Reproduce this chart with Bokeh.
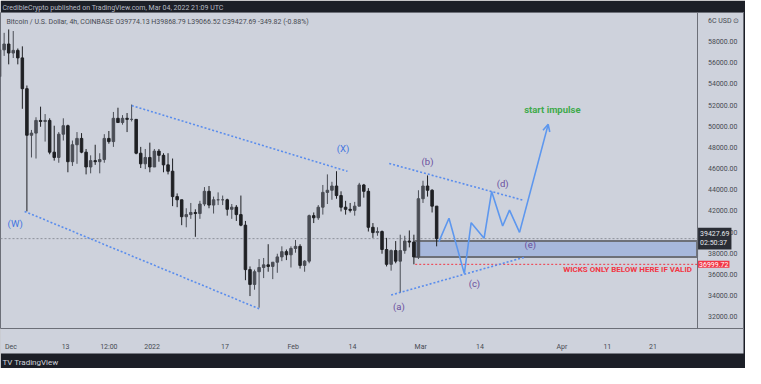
import pandas as pd
from bokeh.plotting import figure
from bokeh.models import Range1d, FixedTicker, Label, Title, Arrow, OpenHead, ColumnDataSource
from bokeh.embed import file_html
from bokeh.resources import INLINE
from bokeh.core.properties import value

# ---------------- data ----------------
first_day = "2021-11-28"
opens = [54740, 57270, 57820,
         56970, 57220, 56510, 53600, 49200, 49400, 50600, 50500, 50600, 47600, 47100, 49300, 50100, 46700, 48300, 48900,
         47600, 46200, 46800, 46700, 46900, 48900, 48600, 50800, 50400, 50800, 50700, 50700, 47500, 46500, 47100,
         46200, 47700, 47300, 46400, 45800, 43400, 43100, 41500, 41700, 41900, 41800, 42700, 43900, 42600, 43100,
         43100, 43100, 42200, 42400, 41700, 40700, 36500, 35100, 36300, 36700, 36950, 36800, 37200, 37700, 38200, 37900,
         38500, 38700, 36900, 37300, 41600, 41400, 42400, 43800, 44000, 44400, 43500, 42400, 42200, 42100, 42500,
         44500, 43900, 40500, 40000, 40100, 38400, 37000, 38300, 37300, 38300, 39200, 39100, 37700,
         43200, 44400, 44000, 42500]
highs = [57450, 58880, 59200,
         59050, 57400, 57600, 53900, 49700, 50900, 51900, 51200, 50800, 50100, 49500, 50800, 50200, 48700, 49500, 49400,
         47900, 47300, 48300, 47500, 49300, 49600, 51400, 51800, 51100, 51300, 52100, 50700, 48100, 47900, 48500,
         47900, 47900, 47500, 47500, 47000, 43700, 43100, 42300, 42800, 42200, 43000, 44300, 44400, 43400, 43800,
         43500, 43200, 42700, 42600, 43500, 41100, 36800, 36500, 37500, 37600, 38900, 37200, 38000, 38700, 38400, 38700,
         39300, 38900, 37400, 41700, 41900, 42600, 44500, 45500, 44800, 45800, 43900, 43000, 42800, 42900, 44700,
         44600, 44200, 40900, 40500, 40200, 39500, 38400, 39200, 39800, 39700, 40200, 39800, 44000,
         44900, 45400, 44100, 42500]
lows = [53330, 56700, 55900,
        56500, 55900, 51700, 42000, 47100, 47000, 50000, 48600, 47400, 46800, 46600, 48700, 45700, 46300, 46500, 47500,
        45500, 45600, 46400, 45600, 46600, 48400, 48100, 50400, 50200, 49500, 50500, 47400, 46100, 46000, 45700,
        46200, 46700, 45700, 45500, 42500, 42400, 40700, 40500, 41300, 39600, 41300, 42500, 42300, 41800, 42600,
        42600, 41600, 41300, 41100, 40600, 35500, 34000, 34600, 32900, 35700, 36300, 35600, 36200, 37300, 37400, 36700,
        38100, 36600, 36300, 37100, 40900, 41200, 41700, 42700, 43100, 43200, 42000, 41700, 41900, 41600, 42500,
        43300, 40100, 39500, 39700, 38000, 36800, 36400, 37100, 34300, 38000, 38600, 37000, 37500,
        42800, 43400, 41900, 38700]
closes = [57270, 57820, 56970,
          57220, 56510, 53600, 49200, 49400, 50600, 50500, 50600, 47600, 47100, 49300, 50100, 46700, 48300, 48900,
          47600, 46200, 46800, 46700, 46900, 48900, 48600, 50800, 50400, 50800, 50700, 50700, 47500, 46500, 47100,
          46200, 47700, 47300, 46400, 45800, 43400, 43100, 41500, 41700, 41900, 41800, 42700, 43900, 42600, 43100,
          43100, 43100, 42200, 42400, 41700, 40700, 36500, 35100, 36300, 36700, 36950, 36800, 37200, 37700, 38200,
          37900, 38500, 38700, 36900, 37300, 41600, 41400, 42400, 43800, 44000, 44400, 43500, 42400, 42200, 42100,
          42500, 44500, 43900, 40500, 40000, 40100, 38400, 37000, 38300, 37300, 38300, 39200, 39100, 37700,
          43200, 44400, 44000, 42500, 39427.69]

last_close = 39427.69
last_close_text = "39427.69\n02:50:37"
invalid_level = 36999.72
invalid_text = "36999.72"

price_ticks = [32000, 34000, 36000, 38000, 40000, 42000, 44000, 46000, 48000, 50000, 52000, 54000, 56000, 58000, 60000]
price_tick_labels = ["32000.00", "34000.00", "36000.00", "38000.00", "40000.00", "42000.00", "44000.00",
                     "46000.00", "48000.00", "50000.00", "52000.00", "54000.00", "56000.00", "58000.00", "6C USD \u2299"]
time_tick_dates = ["2021-12-01", "2021-12-13", "2021-12-22 12:00", "2022-01-01", "2022-01-17", "2022-02-01",
                   "2022-02-14", "2022-03-01", "2022-03-14", "2022-04-01", "2022-04-11", "2022-04-21"]
time_tick_labels = ["Dec", "13", "12:00", "2022", "17", "Feb", "14", "Mar", "14", "Apr", "11", "21"]

# trend lines (date, price) pairs
trend_start_dates = ["2021-12-04 00:00", "2021-12-27 13:00", "2022-02-22 02:00", "2022-02-22 12:00"]
trend_end_dates = ["2022-01-24 12:00", "2022-02-12 22:00", "2022-03-23 14:00", "2022-03-23 19:00"]
trend_start_prices = [42000, 52000, 46530, 34100]
trend_end_prices = [32800, 45790, 43050, 37670]

# projected wave path
path_dates = ["2022-03-05 00:00", "2022-03-07 05:00", "2022-03-10 14:00", "2022-03-12 02:00", "2022-03-14 22:00",
              "2022-03-16 14:00", "2022-03-19 00:00", "2022-03-20 12:00", "2022-03-22 17:00", "2022-03-29 00:00"]
path_prices = [39150, 41350, 36120, 40940, 39460, 43890, 40620, 42120, 40020, 50230]

zone_start_date = "2022-02-27 19:00"
zone_top = 39200
zone_bottom = 37690

wave_labels = ["(W)", "(X)"]
wave_label_dates = ["2021-12-01 22:00", "2022-02-11 22:00"]
wave_label_prices = [40850, 47940]
sub_labels = ["(a)", "(b)", "(c)", "(d)", "(e)"]
sub_label_dates = ["2022-02-24 05:00", "2022-03-02 12:00", "2022-03-12 19:00", "2022-03-19 00:00", "2022-03-25 02:00"]
sub_label_prices = [33010, 46700, 35230, 44670, 38870]
impulse_text = "start impulse"
impulse_date = "2022-03-29 22:00"
impulse_price = 51640
wicks_text = "WICKS ONLY BELOW HERE IF VALID"
wicks_date = "2022-04-29 14:00"
wicks_price = 36470

header_text = "CredibleCrypto published on TradingView.com, Mar 04, 2022 21:09 UTC"
legend_text = "Bitcoin / U.S. Dollar, 4h, COINBASE  O39774.13  H39868.79  L39066.52  C39427.69  -349.82 (-0.88%)"
footer_text = "TV TradingView"

# ---------------- helpers ----------------
origin = pd.Timestamp("2022-01-01")


def to_days(dates):
    return [(pd.Timestamp(d) - origin) / pd.Timedelta(days=1) for d in dates]


n = len(closes)
day_index = pd.date_range(first_day, periods=n, freq="D")
centers = [d + 0.5 for d in to_days(day_index)]
up = [c >= o for o, c in zip(opens, closes)]

BG = "#ced2dc"
DARK = "#1c1f27"
x_start, x_chart_end, x_end = -33.3, 119.7, 129.9   # chart area, then price-scale column
y_lo, y_hi = 30935, 60800

p = figure(width=745, height=368, output_backend="svg", toolbar_location=None,
           x_range=Range1d(x_start, x_end), y_range=Range1d(y_lo, y_hi),
           y_axis_location="right", title=header_text)
p.border_fill_color = DARK
p.background_fill_color = BG
p.outline_line_color = "#6c6f78"
p.grid.visible = False
p.min_border_left = 0
p.min_border_right = 2
p.min_border_top = 0
p.min_border_bottom = 0

p.title.text_color = "#b9bcc5"
p.title.text_font = "Roboto"
p.title.text_font_size = "7px"
p.title.text_font_style = "normal"
p.title.offset = 2
p.title.standoff = 2

# axes
yax = p.yaxis[0]
yax.ticker = FixedTicker(ticks=price_ticks)
yax.major_label_overrides = dict(zip(price_ticks, price_tick_labels))
yax.fixed_location = x_chart_end
xax = p.xaxis[0]
time_ticks = to_days(time_tick_dates)
xax.ticker = FixedTicker(ticks=time_ticks)
xax.major_label_overrides = dict(zip(time_ticks, time_tick_labels))
xax.background_fill_color = BG
for ax in (xax, yax):
    ax.major_label_text_font = "Roboto"
    ax.major_label_text_font_size = "7px"
    ax.major_label_text_color = "#474a52"
    ax.major_tick_line_color = None
    ax.minor_tick_line_color = None
    ax.axis_line_color = "#6c6f78"
yax.major_label_standoff = 5
xax.major_label_standoff = 8

p.add_layout(Title(text=footer_text, text_color="#d1d4dc", text_font="Roboto", text_font_size="8px",
                   text_font_style="normal", align="left", offset=2, standoff=4), "below")

# demand zone and invalidation line
zs = to_days([zone_start_date])[0]
p.quad(left=[zs], right=[x_chart_end], top=[zone_top], bottom=[zone_bottom],
       fill_color="#a7b8dc", fill_alpha=1.0, line_color="#6d7078", line_width=2)
p.segment(x0=[zs], y0=[invalid_level], x1=[x_chart_end], y1=[invalid_level],
          line_color="#f23645", line_width=1, line_dash="2 2")

# current price dotted line
p.segment(x0=[x_start], y0=[last_close], x1=[x_chart_end], y1=[last_close],
          line_color="#8d909a", line_width=1, line_dash="2 2")

# candles
src = ColumnDataSource(dict(x=centers, o=opens, h=highs, l=lows, c=closes,
                            top=[max(o, c) for o, c in zip(opens, closes)],
                            bot=[min(o, c) for o, c in zip(opens, closes)],
                            col=["#4a4d55" if u else "#1f2024" for u in up]))
p.segment(x0="x", y0="h", x1="x", y1="l", source=src, line_color="col", line_width=1)
p.vbar(x="x", top="top", bottom="bot", width=0.55, source=src, fill_color="col", line_color="col")

# trend lines
p.segment(x0=to_days(trend_start_dates), y0=trend_start_prices, x1=to_days(trend_end_dates), y1=trend_end_prices,
          line_color="#5a8ded", line_width=1.6, line_dash="2 2")

# projected path
pdays = to_days(path_dates)
p.line(pdays[:-1], path_prices[:-1], line_color="#5d97ee", line_width=1.6)
p.add_layout(Arrow(end=OpenHead(size=7, line_color="#5d97ee", line_width=1.6),
                   x_start=pdays[-2], y_start=path_prices[-2], x_end=pdays[-1], y_end=path_prices[-1],
                   line_color="#5d97ee", line_width=1.6))

# labels
p.text(to_days(wave_label_dates), wave_label_prices, text=wave_labels, text_color="#4174e0",
       text_font=value("Roboto"), text_font_size="9.5px", text_align="center", text_baseline="middle")
p.text(to_days(sub_label_dates), sub_label_prices, text=sub_labels, text_color="#6a4f9e",
       text_font=value("Roboto"), text_font_size="9.5px", text_align="center", text_baseline="middle")
p.text(to_days([impulse_date]), [impulse_price], text=[impulse_text], text_color="#3faa4c",
       text_font=value("Roboto"), text_font_size="9.5px", text_font_style="bold",
       text_align="center", text_baseline="middle")
p.text(to_days([wicks_date]), [wicks_price], text=[wicks_text], text_color="#f23645",
       text_font=value("Roboto"), text_font_size="8px", text_font_style="bold",
       text_align="right", text_baseline="middle")

p.add_layout(Label(x=x_start, y=y_hi, x_offset=6, y_offset=-9, text=legend_text, text_color="#474a52",
                   text_font="Roboto", text_font_size="7px", text_baseline="middle"))

# price scale markers
p.add_layout(Label(x=x_chart_end, y=last_close, x_offset=1, text=last_close_text, text_color="#e6e8ee",
                   text_font="Roboto", text_font_size="7px", text_baseline="middle", text_align="left",
                   background_fill_color="#2a2d35", padding=2))
p.add_layout(Label(x=x_chart_end, y=invalid_level, x_offset=1, text=invalid_text, text_color="#ffffff",
                   text_font="Roboto", text_font_size="7px", text_baseline="middle", text_align="left",
                   background_fill_color="#f23645", padding=1))

open("out.html", "w").write(file_html(p, INLINE))
